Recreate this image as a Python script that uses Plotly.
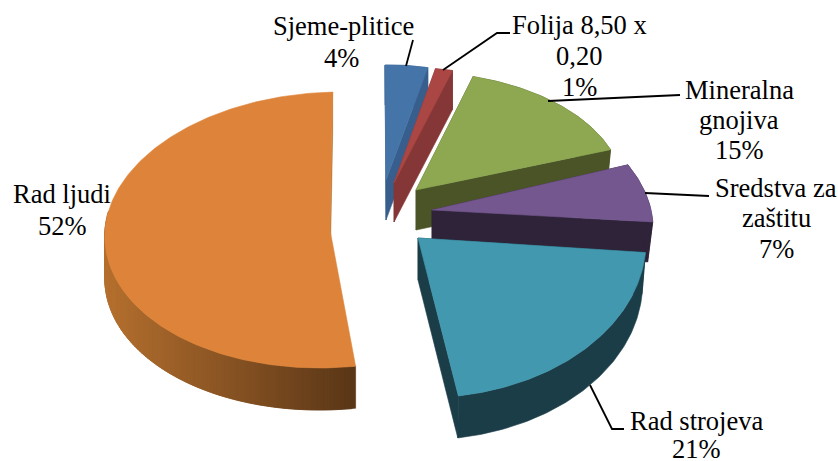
import numpy as np
import plotly.graph_objects as go

categories = ["Sjeme-plitice", "Folija 8,50 x 0,20", "Mineralna gnojiva",
              "Sredstva za zaštitu", "Rad strojeva", "Rad ljudi"]
values = [4, 1, 15, 7, 21, 52]

# drawing style per slice: vertex, radii, shear, depth and bottom taper of the 3-D look
vertex_x = [386, 394, 416, 432, 418, 330]
vertex_y = [180, 183, 190, 210, 238, 230]
radius_x = [172, 275, 207, 219, 228, 225]
radius_y = [115, 117, 118, 132, 160, 138]
shear = [5, -18, 0, -29, -4, 10.5]
depth = [40, 39, 40, 40, 42, 42]
taper = [1.0, 1.0, 0.98, 0.977, 0.985, 1.0]
top_colors = ["#4474A8", "#AA4643", "#8DA850", "#74578F", "#4198AF", "#DE843A"]
wall_colors = ["#375E8C", "#853636", "#4A5427", "#2E2338", "#1B3D48", "#B8742F"]
start_deg = -2.0

fig = go.Figure()


def add_poly(xs, ys, color):
    fig.add_trace(go.Scatter(x=xs, y=ys, mode="lines", fill="toself", fillcolor=color,
                             line=dict(color=color, width=0.6), hoverinfo="skip", showlegend=False))


def lerp_hex(a, b, t):
    ca = [int(a[i:i + 2], 16) for i in (1, 3, 5)]
    cb = [int(b[i:i + 2], 16) for i in (1, 3, 5)]
    return "#%02x%02x%02x" % tuple(round(p + (q - p) * t) for p, q in zip(ca, cb))


edges = start_deg + np.concatenate([[0], np.cumsum(values)]) * 360 / sum(values)
for i in range(len(values)):
    th = np.radians(np.linspace(edges[i], edges[i + 1], max(values[i] * 4, 12) + 1))
    dx = radius_x[i] * np.sin(th) + shear[i] * np.cos(th)
    dy = -radius_y[i] * np.cos(th)
    rx, ry = vertex_x[i] + dx, vertex_y[i] + dy
    bx = vertex_x[i] + dx * taper[i]
    vx, vy, d = vertex_x[i], vertex_y[i], depth[i]
    if i < 5:
        # radial walls and rim wall in one colour
        for k in (0, -1):
            add_poly([vx, rx[k], bx[k], vx, vx], [vy, ry[k], ry[k] + d, vy + d, vy], wall_colors[i])
        add_poly(np.r_[rx, bx[::-1], rx[0]], np.r_[ry, ry[::-1] + d, ry[0]], wall_colors[i])
    else:
        # radial wall seen at the far edge
        add_poly([vx, rx[-1], rx[-1], vx, vx], [vy, ry[-1], ry[-1] + d, vy + d, vy], "#B8742F")
        # front rim: shaded left to right
        front = np.where(np.cos(th) < 0.15)[0]
        for j in front[:-1]:
            t = float(np.clip((356 - rx[j]) / 250, 0, 1))
            e = min(j + 2, front[-1])
            add_poly(np.r_[rx[j:e + 1], rx[j:e + 1][::-1], rx[j]],
                     np.r_[ry[j:e + 1], ry[j:e + 1][::-1] + d, ry[j]],
                     lerp_hex("#5A3617", "#B5702F", t))
    # top face
    add_poly(np.r_[vx, rx, vx], np.r_[vy, ry, vy], top_colors[i])

# leader lines
leaders = [
    [(406, 66), (413, 40)],
    [(443, 70), (497, 33), (510, 33)],
    [(548, 101), (680, 95)],
    [(645, 193), (709, 196)],
    [(590, 385), (612, 429), (624, 429)],
]
for pts in leaders:
    fig.add_trace(go.Scatter(x=[p[0] for p in pts], y=[p[1] for p in pts], mode="lines",
                             line=dict(color="black", width=1.8), hoverinfo="skip", showlegend=False))

# label lines: text, centre x, centre y
label_lines = [
    ("Sjeme-plitice", 343, 26), (f"{values[0]}%", 341, 58),
    ("Folija 8,50 x", 579, 25), ("0,20", 579, 56), (f"{values[1]}%", 579, 87),
    ("Mineralna", 739, 90), ("gnojiva", 739, 120), (f"{values[2]}%", 739, 150),
    ("Sredstva za", 776, 188), ("zaštitu", 776, 218), (f"{values[3]}%", 776, 249),
    ("Rad strojeva", 696, 421), (f"{values[4]}%", 696, 449),
    ("Rad ljudi", 62, 194), (f"{values[5]}%", 62, 226),
]
for text, x, y in label_lines:
    fig.add_annotation(x=x, y=y, text=text, showarrow=False, xanchor="center", yanchor="middle",
                       font=dict(family="Liberation Serif", size=26.5, color="black"))

fig.update_layout(
    width=838, height=461, margin=dict(l=0, r=0, t=0, b=0),
    paper_bgcolor="white", plot_bgcolor="white", showlegend=False,
    xaxis=dict(range=[0, 838], visible=False, fixedrange=True),
    yaxis=dict(range=[461, 0], visible=False, fixedrange=True),
)
fig.write_html("out.html", config=dict(displayModeBar=False),
               post_script="document.body.style.margin='0';document.body.style.overflow='hidden';")
